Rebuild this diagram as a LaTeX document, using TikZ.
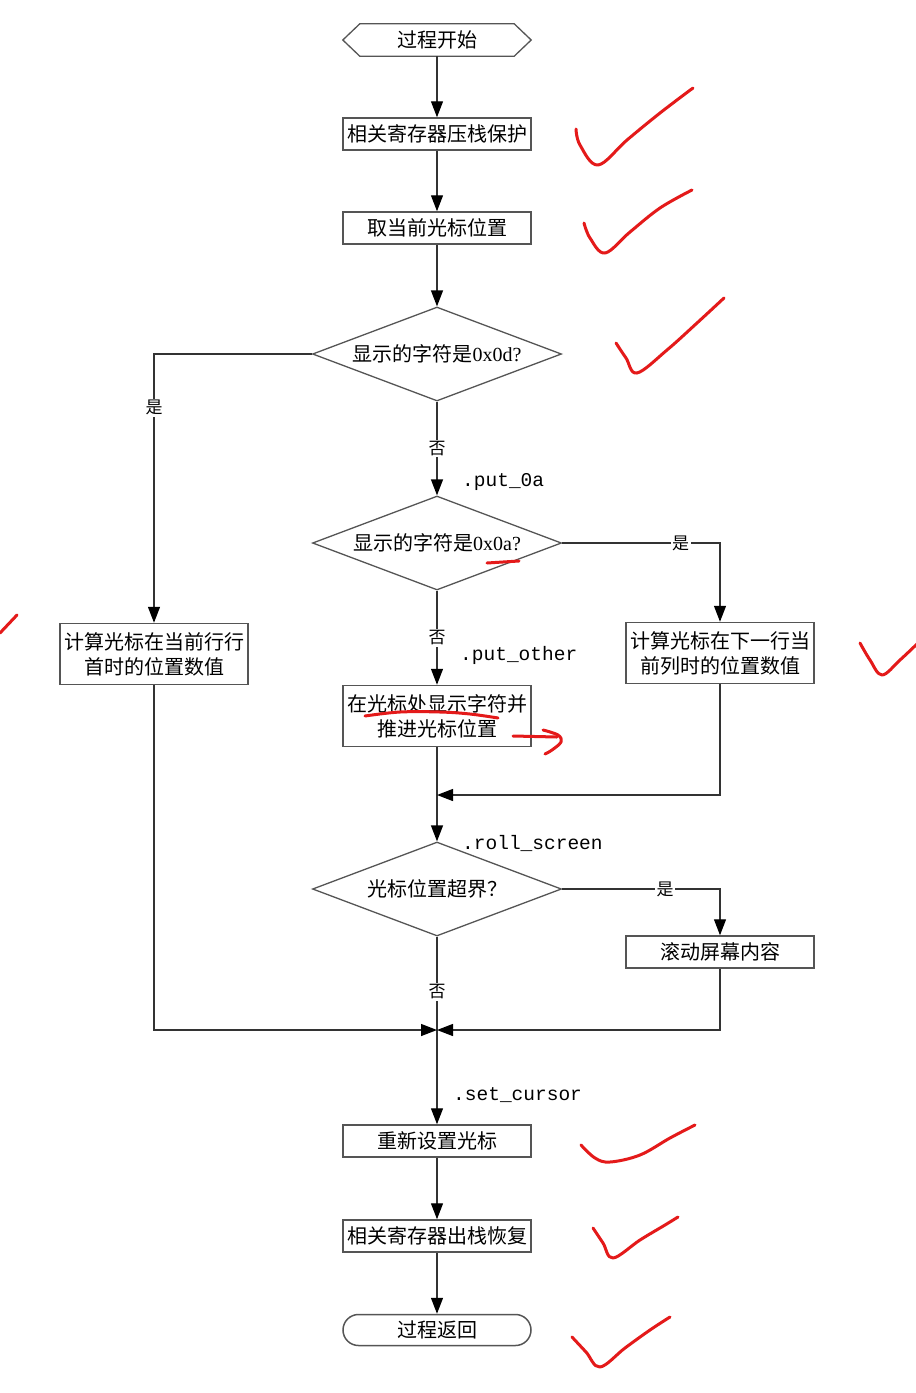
\documentclass[tikz,border=0pt]{standalone}
\usepackage{fontspec}
\setmainfont{Noto Sans CJK SC}
\newfontfamily\lser{Liberation Serif}
\newfontfamily\lmono{Liberation Mono}
\usetikzlibrary{shapes.geometric,shapes.misc,arrows.meta}
\definecolor{inkred}{HTML}{E41A1A}
\definecolor{linegray}{HTML}{333333}
\definecolor{boxgray}{HTML}{555555}
\begin{document}
\begin{tikzpicture}[x=1pt,y=-1pt,
  line/.style={draw=linegray, line width=1.3pt},
  arr/.style={line, -{Triangle[length=16pt,width=12pt,color=black]}},
  txt/.style={font=\fontsize{20}{25}\selectfont, align=center},
  box/.style={txt, draw=boxgray, line width=1.5pt, minimum width=188pt, minimum height=32pt, inner sep=0pt},
  tallbox/.style={box, minimum height=61pt},
  dec/.style={txt, diamond, aspect=2.65, draw=boxgray, line width=1.3pt, minimum width=249pt, minimum height=94pt, inner sep=0pt},
  term/.style={txt, rounded rectangle, draw=boxgray, line width=1.5pt, minimum width=188pt, minimum height=31pt, inner sep=0pt},
  yn/.style={fill=white, inner sep=1.5pt, font=\fontsize{17}{17}\selectfont},
  lbl/.style={anchor=west, inner sep=0pt, font=\lmono\fontsize{19.5}{19.5}\selectfont},
  check/.style={draw=inkred, line width=3pt, line cap=round, line join=round}
]
\fill[white] (0,0) rectangle (916,1393);
\useasboundingbox (0,0) rectangle (916,1393);

% nodes
\node[txt, minimum width=188pt, minimum height=32pt, inner sep=0pt] (start) at (437,40) {过程开始};
\draw[boxgray, line width=1.3pt] (start.west) -- ([xshift=17pt]start.north west) -- ([xshift=-17pt]start.north east) -- (start.east) -- ([xshift=-17pt]start.south east) -- ([xshift=17pt]start.south west) -- cycle;
\node[box] (push) at (437,134) {相关寄存器压栈保护};
\node[box] (getc) at (437,228) {取当前光标位置};
\node[dec] (d1) at (437,354) {显示的字符是{\lser 0x0d?}};
\node[dec] (d2) at (437,543) {显示的字符是{\lser 0x0a?}};
\node[tallbox] (lbox) at (154,654) {计算光标在当前行行\\首时的位置数值};
\node[tallbox] (rbox) at (720,653) {计算光标在下一行当\\前列时的位置数值};
\node[tallbox] (mbox) at (437,716) {在光标处显示字符并\\推进光标位置};
\node[dec] (d3) at (437,889) {光标位置超界？};
\node[box] (roll) at (720,952) {滚动屏幕内容};
\node[box] (setc) at (437,1141) {重新设置光标};
\node[box] (pop) at (437,1236) {相关寄存器出栈恢复};
\node[term] (ret) at (437,1330) {过程返回};

\coordinate (j1) at (437,795);
\coordinate (j2) at (437,1030);

% labels
\node[lbl] (l1) at (462,482) {.put\_0a};
\node[lbl] (l2) at (460,655) {.put\_other};
\node[lbl] (l3) at (462,843) {.roll\_screen};
\node[lbl] (l4) at (453,1095) {.set\_cursor};

% connectors
\draw[arr] (start) -- (push);
\draw[arr] (push) -- (getc);
\draw[arr] (getc) -- (d1);
\draw[arr] (d1.west) -| node[yn, pos=0.6] (y1) {是} (lbox.north);
\draw[arr] (d1.south) -- node[yn, pos=0.5] (n1) {否} (d2.north);
\draw[arr] (d2.east) -| node[yn, pos=0.375] (y2) {是} (rbox.north);
\draw[arr] (d2.south) -- node[yn, pos=0.5] (n2) {否} (mbox.north);
\draw[arr] (mbox.south) -- (d3.north);
\draw[arr] (rbox.south) |- (j1);
\draw[arr] (d3.east) -| node[yn, pos=0.326] (y3) {是} (roll.north);
\draw[arr] (d3.south) -- node[yn, pos=0.295] (n3) {否} (setc.north);
\draw[arr] (lbox.south) |- (j2);
\draw[arr] (roll.south) |- (j2);
\draw[arr] (setc) -- (pop);
\draw[arr] (pop) -- (ret);

% hand-drawn red marks
\draw[check] plot[smooth, tension=0.6] coordinates {(576,129) (580,145) (598,165) (627,140) (660,113) (693,88)};
\draw[check] plot[smooth, tension=0.6] coordinates {(584,223) (590,238) (605,253) (630,232) (660,208) (692,190)};
\draw[check] plot[smooth, tension=0.6] coordinates {(616,343) (626,358) (637,373) (667,350) (697,323) (724,298)};
\draw[check] (0,633) -- (17,615);
\draw[check] plot[smooth, tension=0.6] coordinates {(860,643) (870,660) (882,675) (900,660) (918,643)};
\draw[check] (487,563) -- (519,561);
\draw[check] plot[smooth, tension=0.6] coordinates {(365,716) (400,712) (440,712) (470,714) (498,718)};
\draw[check] (513,736) -- (557,737);
\draw[check] plot[smooth, tension=0.6] coordinates {(543,730) (558,735) (561,742) (552,750) (545,754)};
\draw[check] plot[smooth, tension=0.6] coordinates {(581,1145) (595,1158) (610,1162) (640,1155) (670,1138) (695,1125)};
\draw[check] plot[smooth, tension=0.6] coordinates {(593,1228) (603,1243) (613,1258) (640,1240) (665,1225) (678,1217)};
\draw[check] plot[smooth, tension=0.6] coordinates {(572,1337) (586,1352) (600,1367) (625,1348) (650,1330) (670,1317)};
\end{tikzpicture}
\end{document}
